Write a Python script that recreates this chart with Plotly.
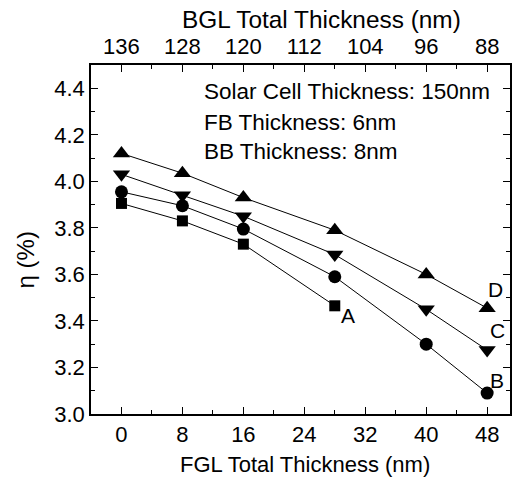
import plotly.graph_objects as go

fgl = [0, 8, 16, 28, 40, 48]
eff_A = [3.905, 3.83, 3.73, 3.465]
eff_B = [3.955, 3.895, 3.795, 3.59, 3.30, 3.09]
eff_C = [4.03, 3.94, 3.85, 3.685, 3.45, 3.275]
eff_D = [4.12, 4.035, 3.93, 3.79, 3.60, 3.455]

x_ticks = [0, 8, 16, 24, 32, 40, 48]
bgl_labels = ["136", "128", "120", "112", "104", "96", "88"]
y_ticks = [3.0, 3.2, 3.4, 3.6, 3.8, 4.0, 4.2, 4.4]
notes = ["Solar Cell Thickness: 150nm", "FB Thickness: 6nm", "BB Thickness: 8nm"]

FONT = "Liberation Sans, Arial, sans-serif"

fig = go.Figure()
series = [
    ("A", fgl[:4], eff_A, "square", 11),
    ("B", fgl, eff_B, "circle", 13),
    ("C", fgl, eff_C, "triangle-down", 15),
    ("D", fgl, eff_D, "triangle-up", 15),
]
for name, xs, ys, sym, sz in series:
    fig.add_trace(go.Scatter(
        x=xs, y=ys, mode="lines+markers", name=name,
        line=dict(color="black", width=1),
        marker=dict(symbol=sym, size=sz, color="black"),
        showlegend=False,
    ))
# invisible trace for the top axis
fig.add_trace(go.Scatter(x=[fgl[0]], y=[eff_A[0]], xaxis="x2", mode="markers",
                         marker=dict(opacity=0), showlegend=False, hoverinfo="skip"))

label_pos = [("A", 28, eff_A[3], 13, -10), ("B", 48, eff_B[5], 10, 13),
             ("C", 48, eff_C[5], 10, 20), ("D", 48, eff_D[5], 8, 19)]
for t, xv, yv, dx, dy in label_pos:
    fig.add_annotation(x=xv, y=yv, text=t, showarrow=False, xanchor="center",
                       yanchor="middle", xshift=dx, yshift=dy,
                       font=dict(size=21, color="black", family=FONT))

for n, yp in zip(notes, [0.923, 0.834, 0.751]):
    fig.add_annotation(x=0, y=yp, xref="paper", yref="paper",
                       text=n, showarrow=False, xanchor="left", yanchor="middle",
                       xshift=111,
                       font=dict(size=22.5, color="black", family=FONT))

# axis titles
fig.add_annotation(x=0.5, y=-0.146, xref="paper", yref="paper", text="FGL Total Thickness (nm)",
                   showarrow=False, xanchor="center", yanchor="middle", xshift=4,
                   font=dict(size=22, color="black", family=FONT))
fig.add_annotation(x=0.5, y=1.129, xref="paper", yref="paper", text="BGL Total Thickness (nm)",
                   showarrow=False, xanchor="center", yanchor="middle", xshift=21,
                   font=dict(size=24.4, color="black", family=FONT))
fig.add_annotation(x=0, y=0.44, xref="paper", yref="paper", text="η (%)", textangle=-90,
                   showarrow=False, xanchor="center", yanchor="middle", xshift=-66,
                   font=dict(size=24, color="black", family=FONT))

common = dict(ticks="inside", ticklen=7, tickwidth=1, tickcolor="black",
              showline=True, linecolor="black", linewidth=1.5, showgrid=False,
              zeroline=False, tickfont=dict(size=22, family=FONT, color="black"))

fig.update_layout(
    width=524, height=485,
    margin=dict(l=91, r=12, t=65, b=71),
    plot_bgcolor="white", paper_bgcolor="white",
    xaxis=dict(range=[-4, 51], tickvals=x_ticks,
               minor=dict(ticks="inside", ticklen=4, dtick=4, tick0=0, tickcolor="black"),
               **common),
    xaxis2=dict(range=[-4, 51], tickvals=x_ticks, ticktext=bgl_labels, overlaying="x", side="top",
                anchor="y",
                minor=dict(ticks="inside", ticklen=4, dtick=4, tick0=0, tickcolor="black"),
                **common),
    yaxis=dict(range=[3.0, 4.5], tickvals=y_ticks, tickformat=".1f", mirror="ticks",
               minor=dict(ticks="inside", ticklen=4, dtick=0.1, tick0=3.0, tickcolor="black"),
               **common),
)

fig.write_html("out.html")
